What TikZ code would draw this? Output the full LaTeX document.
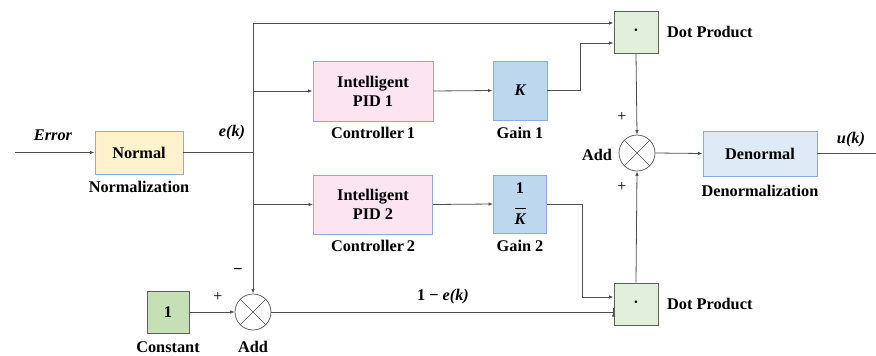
\documentclass[tikz,border=0pt]{standalone}
\usepackage{fontspec}
\setmainfont{Liberation Serif}
\usetikzlibrary{arrows.meta,calc}

\definecolor{linegray}{HTML}{505050}
\definecolor{edgeblue}{HTML}{8FAADC}
\definecolor{edgegray}{HTML}{606060}
\definecolor{normfill}{HTML}{FFF2CC}
\definecolor{ctrlfill}{HTML}{FCE4F0}
\definecolor{gainfill}{HTML}{BDD7EE}
\definecolor{dotfill}{HTML}{E2EFDA}
\definecolor{constfill}{HTML}{C5E0B4}
\definecolor{denfill}{HTML}{DEEBF7}

\newcommand{\lblfont}{\fontsize{16.3}{18}\selectfont\bfseries}

\tikzset{
  txt/.style={font=\lblfont, inner sep=0pt},
  itxt/.style={font=\lblfont\itshape, inner sep=0pt},
  sgn/.style={font=\fontsize{16}{18}\selectfont, inner sep=0pt},
  blk/.style={draw=edgeblue, line width=0.9pt, inner sep=0pt, align=center,
    font=\fontsize{16.3}{19}\selectfont\bfseries},
  dotblk/.style={draw=edgegray, line width=0.9pt, fill=dotfill, inner sep=0pt,
    minimum width=44pt, minimum height=42pt, font=\fontsize{16}{18}\selectfont\bfseries},
  sumnode/.style={circle, draw=linegray, line width=0.7pt, fill=white,
    minimum size=36pt, inner sep=0pt,
    path picture={
      \draw[linegray, line width=0.5pt]
        (path picture bounding box.north west) -- (path picture bounding box.south east)
        (path picture bounding box.north east) -- (path picture bounding box.south west);
    }},
  wire/.style={draw=linegray, line width=0.8pt},
  sig/.style={wire, -{Latex[length=4.5pt,width=3.5pt]}},
}

\begin{document}
\begin{tikzpicture}[x=1pt,y=-1pt]
  \useasboundingbox (0,0) rectangle (876,356);

  % blocks
  \node[blk, fill=normfill, minimum width=88pt, minimum height=43pt] (norm) at (139,152.5) {Normal};
  \node[blk, fill=ctrlfill, minimum width=120pt, minimum height=60pt] (c1) at (373,91) {Intelligent\\PID 1};
  \node[blk, fill=gainfill, minimum width=54pt, minimum height=59pt] (g1) at (520,90.5) {\itshape K};
  \node[blk, fill=gainfill, minimum width=53pt, minimum height=58pt] (g2) at (520,204)
    {1\\[-4pt]\rule{11pt}{1.3pt}\\[-3pt]\itshape K};
  \node[blk, fill=ctrlfill, minimum width=119pt, minimum height=59pt] (c2) at (373,204.5) {Intelligent\\PID 2};
  \node[dotblk] (dp1) at (636,32) {·};
  \node[dotblk] (dp2) at (636,304) {·};
  \node[sumnode] (s1) at (637,153) {};
  \node[sumnode] (s0) at (253,312) {};
  \node[draw=edgegray, line width=0.9pt, fill=constfill, minimum width=42pt, minimum height=42pt,
    inner sep=0pt, font=\lblfont] (const) at (168,312) {1};
  \node[blk, fill=denfill, minimum width=114pt, minimum height=45pt] (den) at (760,153.5) {Denormal};

  % block captions
  \node[txt] (lnorm) at (139,187) {Normalization};
  \node[txt] (lc1) at (373,133) {Controller\,1};
  \node[txt] (lg1) at (520,133) {Gain 1};
  \node[txt] (lc2) at (373,246) {Controller\,2};
  \node[txt] (lg2) at (520,246) {Gain 2};
  \node[txt, anchor=west] (ldp1) at (667,32) {Dot Product};
  \node[txt, anchor=west] (ldp2) at (667,304) {Dot Product};
  \node[txt] (ladd1) at (597,155) {Add};
  \node[txt] (ladd0) at (253,347) {Add};
  \node[txt] (lconst) at (168,347) {Constant};
  \node[txt] (lden) at (760,191) {Denormalization};

  % signal names
  \node[itxt] (lerr) at (53,135) {Error};
  \node[itxt] (lek) at (232,133) {e(k)};
  \node[itxt] (luk) at (851,140) {u(k)};
  \node[txt] (lone) at (443,297) {1 − \itshape e(k)};

  % summing signs
  \node[sgn] (p1) at (622,117) {+};
  \node[sgn] (p2) at (622,187) {+};
  \node[sgn] (p3) at (218,297) {+};
  \node[sgn, font=\lblfont] (m1) at (238,272) {−};

  % connection points
  \coordinate (in) at (15,152.5);
  \coordinate (bus) at (253,152.5);
  \coordinate (busTop) at (253,23);
  \coordinate (bus1) at (253,91);
  \coordinate (bus2) at (253,204.5);
  \coordinate (out) at (876,153.5);
  \coordinate (k1) at (580,90.5);
  \coordinate (k2) at (582,204);
  \coordinate (d1a) at ($(dp1.west)+(0,-9)$);
  \coordinate (d1b) at ($(dp1.west)+(0,11)$);
  \coordinate (d2a) at ($(dp2.west)+(0,-7)$);
  \coordinate (d2b) at ($(dp2.west)+(0,8)$);

  % wiring
  \draw[sig] (in) -- (norm.west);
  \draw[wire] (norm.east) -- (bus);
  \draw[sig] (busTop) -- (s0.north);
  \draw[sig] (busTop) -- (d1a);
  \draw[sig] (bus1) -- (c1.west);
  \draw[sig] (bus2) -- (c2.west);
  \draw[sig] (c1.east) -- (g1.west);
  \draw[sig] (c2.east) -- (g2.west);
  \draw[sig] (g1.east) -- (k1) |- (d1b);
  \draw[sig] (g2.east) -- (k2) |- (d2a);
  \draw[sig] (const.east) -- (s0.west);
  \draw[sig] (s0.east) -- (s0.east -| d2b) -- (d2b);
  \draw[sig] (dp1.south) -- (s1.north);
  \draw[sig] (dp2.north) -- (s1.south);
  \draw[sig] (s1.east) -- (den.west);
  \draw[wire] (den.east) -- (out);
\end{tikzpicture}
\end{document}
